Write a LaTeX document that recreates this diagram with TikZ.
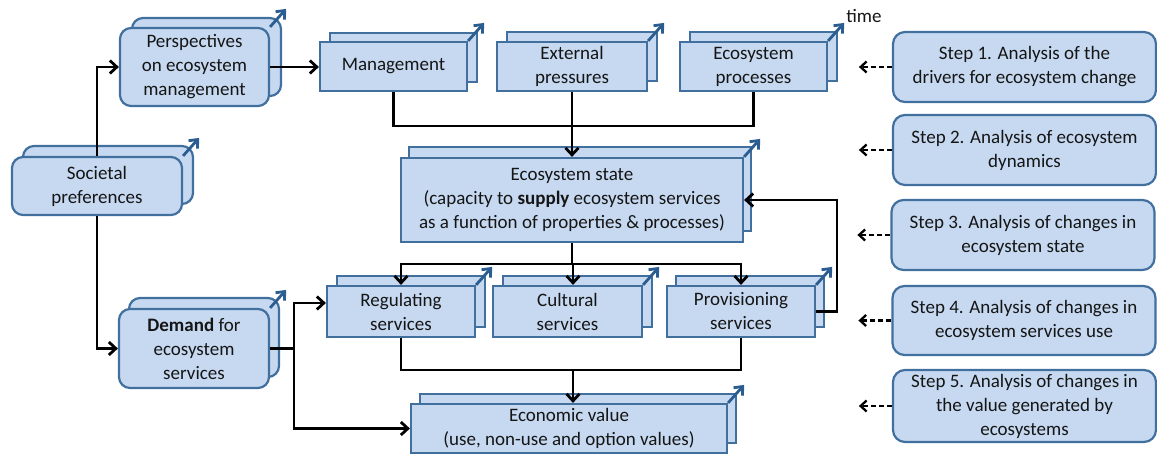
\documentclass[tikz,border=0pt]{standalone}
\usepackage{fontspec}
\setmainfont{Carlito}
\usetikzlibrary{arrows.meta}
\definecolor{boxfill}{HTML}{C6D9F1}
\definecolor{boxline}{HTML}{41709F}
\definecolor{timeblue}{HTML}{2C5D91}
\definecolor{ink}{HTML}{151515}

% A panel drawn twice (a second copy offset behind it) with a small
% blue "time" arrow leaving its upper right corner.
% #1 name, #2 x, #3 y, #4 width, #5 height, #6 dx, #7 dy, #8 extra style, #9 text
\newcommand\stacked[9]{%
  \node[panel,#8,minimum width=#4pt,minimum height=#5pt] (#1-back) at ({#2+#6},{#3+#7}) {};
  \node[panel,#8,minimum width=#4pt,minimum height=#5pt] (#1) at (#2,#3) {#9};
  \coordinate (#1-tip) at ([shift={(16,-18)}]#1.north east);
  \draw[timearrow] (#1.north east) -- (#1-tip);
}

\begin{document}
\begin{tikzpicture}[x=1pt,y=-1pt,
  every node/.style={font=\fontsize{19}{24}\selectfont, text=ink},
  panel/.style={draw=boxline, fill=boxfill, line width=2.2pt, align=center, inner sep=0pt},
  soft/.style={rounded corners=11pt},
  stepbox/.style={panel, rounded corners=12pt, minimum width=263pt, minimum height=70pt},
  timearrow/.style={draw=timeblue, line width=2.8pt, -{Straight Barb[length=7pt,width=12pt]}},
  link/.style={draw=black, line width=2.8pt},
  conn/.style={link, -{Straight Barb[length=7pt,width=13pt]}},
  hint/.style={draw=black, line width=2.3pt, dash pattern=on 5pt off 3pt, -{Straight Barb[length=6pt,width=11pt]}}
]
\useasboundingbox (0,0) rectangle (1157,457);

% left column
\stacked{persp}{194.5}{67}{149}{78}{12}{-10}{soft}{Perspectives\\on ecosystem\\management}
\stacked{soc}{97}{186}{170}{58}{11}{-11}{soft}{Societal\\preferences}
\stacked{dem}{194}{348.5}{150}{79}{10}{-11}{soft}{\textbf{Demand} for\\ecosystem\\services}

% drivers
\stacked{mgmt}{393.5}{66.5}{147}{49}{10}{-9}{}{Management}
\stacked{ext}{572}{66.5}{150}{49}{10}{-10}{}{External\\pressures}
\stacked{proc}{753.5}{66.5}{147}{49}{10}{-10}{}{Ecosystem\\processes}
\node (time) at (864,16) {time};

% ecosystem state
\stacked{state}{572}{200}{342}{84}{8}{-11}{}{Ecosystem state\\(capacity to \textbf{supply} ecosystem services\\as a function of properties \& processes)}

% services
\stacked{reg}{401}{311.5}{148}{51}{10}{-10}{}{Regulating\\services}
\stacked{cult}{567.5}{311.5}{149}{51}{10}{-10}{}{Cultural\\services}
\stacked{prov}{741}{311.5}{148}{51}{9}{-10}{}{Provisioning\\services}

% value
\stacked{econ}{569}{428.5}{316}{49}{9}{-10}{}{Economic value\\(use, non-use and option values)}

% analysis steps
\node[stepbox] (s1) at (1024.5,67)  {Step 1. Analysis of the\\drivers for ecosystem change};
\node[stepbox] (s2) at (1024.5,150) {Step 2. Analysis of ecosystem\\dynamics};
\node[stepbox] (s3) at (1023,235)   {Step 3. Analysis of changes in\\ecosystem state};
\node[stepbox, minimum height=69pt] (s4) at (1024,320.5) {Step 4. Analysis of changes in\\ecosystem services use};
\node[stepbox, minimum height=72pt] (s5) at (1024.5,406) {Step 5. Analysis of changes in\\the value generated by\\ecosystems};

% junction points
\coordinate (bus1) at (572,126);
\coordinate (bus2) at (572,264);
\coordinate (bus3) at (573,370);
\coordinate (fb) at (837,200);
\coordinate (dj) at (294,348.5);

% connectors
\draw[conn] (soc.north) |- (persp.west);
\draw[conn] (persp.east) -- (persp.east -| mgmt.west);
\draw[conn] (soc.south) |- (dem.west);

\draw[link] (mgmt.south) |- (bus1) -| (proc.south);
\draw[conn] (ext.south) -- (state.north);

\draw[link] (state.south) -- (bus2);
\draw[conn] (bus2) -| (reg.north);
\draw[conn] (bus2) -| (prov.north);
\draw[conn] ([xshift=1pt]bus2) -- ([xshift=1pt]bus2 |- cult.north);

\draw[link] (reg.south) |- (bus3) -| (prov.south);
\draw[conn] (bus3) -- (bus3 |- econ.north);

\draw[conn] (prov.east) -| (fb) -- (fb -| state.east);

\draw[link] (dem.east) -- (dj);
\draw[conn] (dj) |- ([yshift=8.5pt]reg.west);
\draw[conn] (dj) |- (econ.west);

% step pointers
\foreach \s in {s1,s2,s3,s4,s5}
  \draw[hint] (\s.west) -- ++(-33,0);
\end{tikzpicture}
\end{document}
